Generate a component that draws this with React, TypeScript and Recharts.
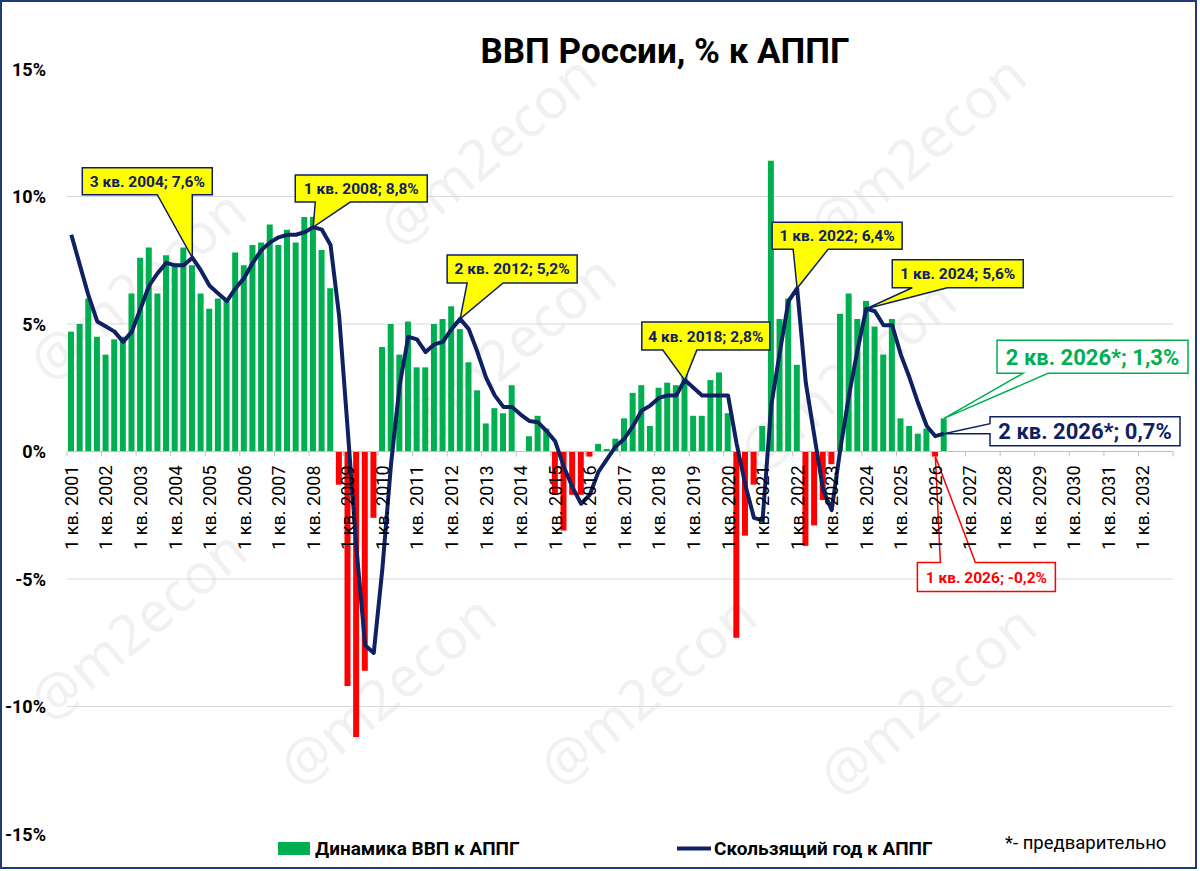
import React from "react";
import {
  ComposedChart,
  Bar,
  Line,
  XAxis,
  YAxis,
  CartesianGrid,
  ReferenceLine,
  ReferenceDot,
  Cell,
} from "recharts";

// ---------- data ----------
const YEARS = [
  2001, 2002, 2003, 2004, 2005, 2006, 2007, 2008, 2009, 2010, 2011, 2012, 2013, 2014, 2015, 2016,
  2017, 2018, 2019, 2020, 2021, 2022, 2023, 2024, 2025, 2026, 2027, 2028, 2029, 2030, 2031, 2032,
];
const QUARTERS = ["1 кв.", "2 кв.", "3 кв.", "4 кв."];

// Динамика ВВП к АППГ, % (quarterly, 1 кв. 2001 … 2 кв. 2026)
const GDP = [
  4.7, 5.0, 6.0, 4.5,
  3.8, 4.4, 4.5, 6.2,
  7.6, 8.0, 6.2, 7.7,
  7.3, 8.0, 7.3, 6.2,
  5.6, 6.0, 6.0, 7.8,
  7.3, 8.1, 8.2, 8.9,
  8.1, 8.7, 8.2, 9.2,
  9.2, 7.9, 6.4, -1.3,
  -9.2, -11.2, -8.6, -2.6,
  4.1, 5.0, 3.8, 5.1,
  3.3, 3.3, 5.0, 5.2,
  5.7, 4.8, 3.5, 2.4,
  1.1, 1.7, 1.5, 2.6,
  0.0, 0.6, 1.4, 0.9,
  -1.7, -3.1, -1.7, -1.7,
  -0.2, 0.3, 0.1, 0.5,
  1.3, 2.3, 2.6, 1.0,
  2.5, 2.7, 2.6, 3.2,
  1.4, 1.4, 2.8, 3.1,
  1.5, -7.3, -3.3, -1.3,
  1.0, 11.4, 5.2, 6.0,
  3.4, -3.7, -2.9, -1.9,
  -0.5, 5.4, 6.2, 5.2,
  5.9, 4.9, 3.8, 5.2,
  1.3, 1.0, 0.7, 0.9,
  -0.2, 1.3,
];

// Скользящий год к АППГ, %
const ROLLING = [
  8.5, 7.3, 6.1, 5.1,
  4.9, 4.7, 4.3, 4.7,
  5.6, 6.5, 7.0, 7.4,
  7.3, 7.3, 7.6, 7.1,
  6.5, 6.2, 5.9, 6.4,
  6.8, 7.4, 7.9, 8.2,
  8.4, 8.5, 8.5, 8.6,
  8.8, 8.7, 8.1, 5.3,
  0.8, -3.8, -7.6, -7.9,
  -4.6, -0.5, 2.6, 4.5,
  4.4, 3.9, 4.2, 4.3,
  4.8, 5.2, 4.8, 3.9,
  2.9, 2.2, 1.75, 1.75,
  1.45, 1.2, 1.15, 0.8,
  0.4, -0.6, -1.4, -2.05,
  -1.7, -0.8, -0.3, 0.2,
  0.5, 1.0, 1.6, 1.8,
  2.1, 2.2, 2.2, 2.8,
  2.5, 2.2, 2.2, 2.2,
  2.2, 0.3, -1.3, -2.6,
  -2.7, 1.8, 3.9, 5.9,
  6.4, 2.7, 0.6, -1.5,
  -2.3, 0.1, 2.2, 4.0,
  5.6, 5.5, 4.95, 4.95,
  3.8, 2.9, 1.9, 1.0,
  0.6, 0.7,
];

const Y_TICKS = [-15, -10, -5, 0, 5, 10, 15];
const GRID_VALUES = [-10, -5, 5, 10];

const CATEGORIES = YEARS.flatMap((y) => QUARTERS.map((q) => `${q} ${y}`));
const YEAR_LABELS = YEARS.map((y) => `${QUARTERS[0]} ${y}`);

const chartData = CATEGORIES.map((cat, i) => ({
  cat,
  gdp: i < GDP.length ? GDP[i] : null,
  roll: i < ROLLING.length ? ROLLING[i] : null,
}));

// ---------- layout / style ----------
const W = 1200;
const H = 871;
const M_TOP = 69;
const M_RIGHT = 27;
const X_AXIS_H = 2;
const M_BOTTOM = 35;
const Y_AXIS_W = 67;
const PLOT_H = H - M_TOP - M_BOTTOM - X_AXIS_H;
const PLOT_W = W - Y_AXIS_W - M_RIGHT;
const Y_MIN = -15;
const Y_MAX = 15;
const ZERO_Y = M_TOP + (PLOT_H * Y_MAX) / (Y_MAX - Y_MIN);
const BAND = PLOT_W / CATEGORIES.length;

const FONT = "Roboto, 'Noto Sans', 'DejaVu Sans', sans-serif";
const GREEN = "#00b050";
const RED = "#ff0000";
const NAVY = "#0f2163";
const GRID = "#d9d9d9";
const YELLOW = "#ffff00";

type Callout = {
  idx: number;
  series: "gdp" | "roll";
  text: string;
  fill: string;
  stroke: string;
  color: string;
  fs: number;
  dx: number;
  dy: number;
  w: number;
  h: number;
  edge: "bottom" | "left" | "top";
  a: number;
  b: number;
};

const CALLOUTS: Callout[] = [
  { idx: 14, series: "roll", text: "3 кв. 2004; 7,6%", fill: YELLOW, stroke: NAVY, color: NAVY, fs: 15.5, dx: -110, dy: -90, w: 130, h: 27, edge: "bottom", a: 75, b: 110 },
  { idx: 28, series: "roll", text: "1 кв. 2008; 8,8%", fill: YELLOW, stroke: NAVY, color: NAVY, fs: 15.5, dx: -18, dy: -52, w: 132, h: 27, edge: "bottom", a: 20, b: 55 },
  { idx: 45, series: "roll", text: "2 кв. 2012; 5,2%", fill: YELLOW, stroke: NAVY, color: NAVY, fs: 15.5, dx: -13, dy: -64, w: 130, h: 28, edge: "bottom", a: 20, b: 56 },
  { idx: 71, series: "roll", text: "4 кв. 2018; 2,8%", fill: YELLOW, stroke: NAVY, color: NAVY, fs: 15.5, dx: -43, dy: -58, w: 128, h: 28, edge: "bottom", a: 21, b: 55 },
  { idx: 84, series: "roll", text: "1 кв. 2022; 6,4%", fill: YELLOW, stroke: NAVY, color: NAVY, fs: 15.5, dx: -25, dy: -66, w: 130, h: 27, edge: "bottom", a: 21, b: 56 },
  { idx: 92, series: "roll", text: "1 кв. 2024; 5,6%", fill: YELLOW, stroke: NAVY, color: NAVY, fs: 15.5, dx: 26, dy: -49, w: 131, h: 28, edge: "bottom", a: 20, b: 55 },
  { idx: 101, series: "gdp", text: "2 кв. 2026*; 1,3%", fill: "#ffffff", stroke: GREEN, color: GREEN, fs: 22, dx: 53, dy: -78, w: 191, h: 33, edge: "bottom", a: 26, b: 51 },
  { idx: 101, series: "roll", text: "2 кв. 2026*; 0,7%", fill: "#ffffff", stroke: NAVY, color: NAVY, fs: 22, dx: 46, dy: -17, w: 190, h: 29, edge: "left", a: 7, b: 17 },
  { idx: 100, series: "gdp", text: "1 кв. 2026; -0,2%", fill: "#ffffff", stroke: RED, color: RED, fs: 15.5, dx: -18, dy: 106, w: 138, h: 29, edge: "top", a: 23, b: 58 },
];

const WATERMARKS: [number, number][] = [
  [400, 250],
  [830, 250],
  [50, 385],
  [420, 450],
  [760, 475],
  [50, 725],
  [300, 790],
  [560, 790],
  [840, 800],
];

function makeCalloutShape(c: Callout) {
  return (props: any) => {
    const { cx, cy } = props;
    if (cx == null || cy == null) return <g />;
    const L = cx + c.dx;
    const T = cy + c.dy;
    const R = L + c.w;
    const B = T + c.h;
    let pts: number[][];
    if (c.edge === "bottom") {
      pts = [[L, T], [R, T], [R, B], [L + c.b, B], [cx, cy], [L + c.a, B], [L, B]];
    } else if (c.edge === "left") {
      pts = [[L, T], [R, T], [R, B], [L, B], [L, T + c.b], [cx, cy], [L, T + c.a]];
    } else {
      pts = [[L, T], [L + c.a, T], [cx, cy], [L + c.b, T], [R, T], [R, B], [L, B]];
    }
    const d = "M" + pts.map((p) => `${p[0]},${p[1]}`).join("L") + "Z";
    return (
      <g>
        <path d={d} fill={c.fill} stroke={c.stroke} strokeWidth={1.5} strokeLinejoin="miter" />
        <text
          x={(L + R) / 2}
          y={(T + B) / 2 + c.fs * 0.36}
          textAnchor="middle"
          fontSize={c.fs}
          fontWeight={700}
          fill={c.color}
          fontFamily={FONT}
        >
          {c.text}
        </text>
      </g>
    );
  };
}

function renderXTick(props: any) {
  const { x, payload } = props;
  const value = payload ? payload.value : "";
  if (!YEAR_LABELS.includes(value)) return <g />;
  const boundary = x - BAND / 2;
  const isLast = value === YEAR_LABELS[YEAR_LABELS.length - 1];
  return (
    <g>
      <line x1={boundary} x2={boundary} y1={ZERO_Y} y2={ZERO_Y + 5} stroke="#bfbfbf" strokeWidth={1} />
      {isLast ? (
        <line x1={x + BAND * 3.5} x2={x + BAND * 3.5} y1={ZERO_Y} y2={ZERO_Y + 5} stroke="#bfbfbf" strokeWidth={1} />
      ) : null}
      <text
        transform={`translate(${x + 6.5},${ZERO_Y + 14}) rotate(-90)`}
        textAnchor="end"
        fontSize={18}
        fill="#000"
        fontFamily={FONT}
      >
        {value}
      </text>
    </g>
  );
}

function renderYTick(props: any) {
  const { y, payload } = props;
  return (
    <text x={46} y={y + 6.5} textAnchor="end" fontSize={18} fontWeight={700} fill="#000" fontFamily={FONT}>
      {`${payload.value}%`}
    </text>
  );
}

export default function App() {
  return (
    <div style={{ position: "relative", width: W, height: H, background: "#fff", overflow: "hidden" }}>
      <style>{`body{margin:0;}`}</style>
      {/* watermark */}
      <svg width={W} height={H} style={{ position: "absolute", left: 0, top: 0 }}>
        {WATERMARKS.map(([x, y], i) => (
          <text
            key={i}
            transform={`translate(${x},${y}) rotate(-40)`}
            fontSize={56}
            fill="#f1f1f1"
            fontFamily="'Noto Sans', sans-serif"
          >
            @m2econ
          </text>
        ))}
      </svg>
      <div style={{ position: "absolute", left: 0, top: 0 }}>
        <ComposedChart
          width={W}
          height={H}
          data={chartData}
          margin={{ top: M_TOP, right: M_RIGHT, bottom: M_BOTTOM, left: 0 }}
          barCategoryGap={0}
          barGap={0}
        >
          <CartesianGrid vertical={false} horizontalValues={GRID_VALUES} stroke={GRID} strokeWidth={1} />
          <XAxis
            dataKey="cat"
            interval={0}
            height={X_AXIS_H}
            axisLine={false}
            tickLine={false}
            tick={renderXTick}
          />
          <YAxis
            domain={[Y_MIN, Y_MAX]}
            ticks={Y_TICKS}
            width={Y_AXIS_W}
            axisLine={false}
            tickLine={false}
            tick={renderYTick}
            allowDataOverflow
          />
          <ReferenceLine y={0} stroke="#bfbfbf" strokeWidth={1.2} />
          <Bar dataKey="gdp" barSize={6} isAnimationActive={false}>
            {chartData.map((d, i) => (
              <Cell key={i} fill={d.gdp != null && d.gdp < 0 ? RED : GREEN} />
            ))}
          </Bar>
          <Line
            dataKey="roll"
            type="linear"
            stroke={NAVY}
            strokeWidth={4}
            strokeLinejoin="round"
            dot={false}
            activeDot={false}
            isAnimationActive={false}
          />
          {CALLOUTS.map((c, i) => (
            <ReferenceDot
              key={i}
              x={CATEGORIES[c.idx]}
              y={c.series === "roll" ? ROLLING[c.idx] : GDP[c.idx]}
              r={1}
              ifOverflow="visible"
              shape={makeCalloutShape(c)}
            />
          ))}
        </ComposedChart>
      </div>
      {/* title, legend, frame */}
      <svg width={W} height={H} style={{ position: "absolute", left: 0, top: 0, pointerEvents: "none" }}>
        <text x={665} y={63} textAnchor="middle" fontSize={35} fontWeight={700} fill="#000" fontFamily={FONT}>
          ВВП России, % к АППГ
        </text>
        <rect x={278} y={842} width={32} height={13} fill={GREEN} />
        <text x={315} y={855} fontSize={19} fontWeight={700} fill="#000" fontFamily={FONT}>
          Динамика ВВП к АППГ
        </text>
        <line x1={677} x2={711} y1={848.5} y2={848.5} stroke={NAVY} strokeWidth={4} />
        <text x={714} y={855} fontSize={19} fontWeight={700} fill="#000" fontFamily={FONT}>
          Скользящий год к АППГ
        </text>
        <text x={1005} y={849} fontSize={18.5} fill="#000" fontFamily={FONT}>
          *- предварительно
        </text>
        <rect x={1} y={1} width={1195} height={867} fill="none" stroke="#1f3a7a" strokeWidth={2} />
      </svg>
    </div>
  );
}
